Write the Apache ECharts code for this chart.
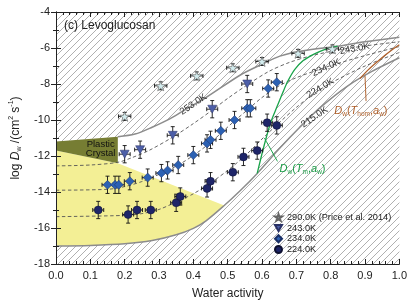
<!DOCTYPE html>
<html>
<head>
<meta charset="utf-8">
<script src="https://cdn.jsdelivr.net/npm/echarts@6/dist/echarts.min.js"></script>
<style>
  html, body { margin: 0; padding: 0; background: #fff; }
  #chart { width: 410px; height: 305px; }
</style>
</head>
<body>
<div id="chart"></div>
<script>
// measurements: [water activity, log Dw]
const price290 = [[0.20, -9.8], [0.305, -8.1], [0.41, -7.55], [0.515, -7.1], [0.60, -6.75], [0.705, -6.3], [0.805, -6.05]];
const meas243 = [[0.20, -11.9], [0.245, -11.65], [0.34, -10.85], [0.455, -9.4], [0.557, -8.0]];
const meas234 = [[0.15, -13.6], [0.172, -13.6], [0.183, -13.6], [0.215, -13.4], [0.267, -13.2], [0.307, -12.95],
  [0.325, -12.8], [0.356, -12.5], [0.40, -11.95], [0.44, -11.3], [0.45, -11.1], [0.48, -10.6], [0.52, -10.0],
  [0.557, -9.35], [0.566, -9.35], [0.618, -8.25], [0.643, -7.9]];
const meas224 = [[0.123, -15.0], [0.21, -15.25], [0.236, -15.0], [0.276, -15.0], [0.35, -14.6], [0.362, -14.25],
  [0.44, -13.8], [0.45, -13.4], [0.515, -12.9], [0.546, -12.05], [0.586, -11.7], [0.615, -10.15], [0.643, -10.3]];
const errPrice = [0.018, 0.22];
const errMeas = [0.016, 0.48];

// model isotherms
const iso253 = [[0.18, -10.93], [0.23, -10.78], [0.28, -10.4], [0.33, -9.95], [0.374, -9.45], [0.437, -8.75],
  [0.537, -7.5], [0.6, -6.9], [0.652, -6.45], [0.72, -6.15], [0.82, -5.9], [0.9, -5.65], [1.0, -5.4]];
const iso243 = [[0, -12.55], [0.1, -12.5], [0.18, -12.35], [0.22, -12.1], [0.27, -11.7], [0.34, -10.95], [0.4, -10.2],
  [0.455, -9.45], [0.5, -8.8], [0.557, -8.05], [0.62, -7.3], [0.68, -6.8], [0.75, -6.4], [0.85, -6.02], [1.0, -5.65]];
const iso234 = [[0, -13.9], [0.15, -13.85], [0.2, -13.7], [0.25, -13.42], [0.3, -13.02], [0.356, -12.5], [0.4, -11.97],
  [0.45, -11.25], [0.517, -10.1], [0.56, -9.4], [0.6, -8.75], [0.65, -8.1], [0.7, -7.65], [0.75, -7.3], [0.8, -6.98],
  [0.9, -6.42], [1.0, -5.92]];
const iso224 = [[0, -15.37], [0.2, -15.3], [0.25, -15.2], [0.3, -14.97], [0.365, -14.42], [0.4, -14.1], [0.45, -13.5],
  [0.5, -12.8], [0.55, -12.0], [0.603, -11.0], [0.65, -10.15], [0.7, -9.3], [0.75, -8.55], [0.8, -7.95], [0.9, -7.0],
  [1.0, -6.25]];
const iso215 = [[0, -17.0], [0.1, -16.97], [0.2, -16.88], [0.28, -16.7], [0.35, -16.38], [0.4, -16.02], [0.437, -15.6],
  [0.49, -14.75], [0.537, -13.92], [0.586, -12.97], [0.65, -11.6], [0.71, -10.4], [0.77, -9.3], [0.85, -8.1],
  [0.92, -7.3], [1.0, -6.54]];
const meltCurve = [[0.586, -12.97], [0.605, -11.5], [0.625, -10.15], [0.645, -9.2], [0.66, -8.5], [0.675, -7.85],
  [0.695, -7.2], [0.72, -6.7], [0.75, -6.35], [0.78, -6.1], [0.82, -5.9]];
const homCurve = [[0.885, -7.7], [0.91, -7.2], [0.935, -6.78], [0.96, -6.38], [0.98, -6.08], [1.0, -5.82]];
const meltPointer = [[0.607, -11.0], [0.645, -12.3]];
const homPointer = [[0.9, -7.55], [0.903, -8.95]];
const plasticTop = [[0, -11.2], [0.18, -10.93]];
const plasticBottom = [[0, -11.7], [0.18, -12.4]];
const glassEdge = [[0.18, -12.4], [0.49, -14.75]];

const xTicks = [0, 1, 0.1];
const yTicks = [-18, -4, 2];

const FONT = 'Liberation Sans, Arial, sans-serif';

// hatch pattern
const tile = document.createElement('canvas');
tile.width = 7; tile.height = 7;
const g = tile.getContext('2d');
g.strokeStyle = '#9c9c9c';
g.lineWidth = 0.8;
g.beginPath();
g.moveTo(0, 7); g.lineTo(7, 0);
g.moveTo(-1, 1); g.lineTo(1, -1);
g.moveTo(6, 8); g.lineTo(8, 6);
g.stroke();
const hatch = { image: tile, repeat: 'repeat' };

// regions
const fullBox = [[xTicks[0], yTicks[0]], [xTicks[1], yTicks[0]], [xTicks[1], yTicks[1]], [xTicks[0], yTicks[1]]];
const whiteRegion = [plasticTop[0]]
  .concat(iso253.filter(p => p[0] <= 0.82))
  .concat(meltCurve.slice().reverse())
  .concat(iso215.filter(p => p[0] <= 0.586).reverse());
const yellowRegion = plasticBottom.concat(glassEdge.slice(1))
  .concat(iso215.filter(p => p[0] <= 0.49).reverse());
const oliveRegion = plasticTop.concat(plasticBottom.slice().reverse());

function region(pts, fill, z) {
  return {
    type: 'custom', silent: true, z: z, data: [[0, 0]],
    renderItem: (params, api) => ({
      type: 'polygon',
      shape: { points: pts.map(p => api.coord(p)) },
      style: { fill: fill, stroke: null }
    })
  };
}

function curve(pts, color, width, dash, z) {
  return {
    type: 'line', silent: true, z: z, data: pts, showSymbol: false, smooth: 0.3,
    lineStyle: { color: color, width: width, type: dash || 'solid' }
  };
}

const errData = [].concat(
  price290.map(p => [p[0], p[1], errPrice[0], errPrice[1]]),
  meas243.map(p => [p[0], p[1], errMeas[0], errMeas[1]]),
  meas234.map(p => [p[0], p[1], errMeas[0], errMeas[1]]),
  meas224.map(p => [p[0], p[1], errMeas[0], errMeas[1]])
);

const subRich = {
  i: { fontStyle: 'italic', fontSize: 11, lineHeight: 14, fontFamily: FONT },
  n: { fontSize: 11, lineHeight: 14, fontFamily: FONT },
  s: { fontSize: 6.5, lineHeight: 7, verticalAlign: 'bottom', fontFamily: FONT }
};

const notes = [
  { text: '253.0K', at: [0.40, -9.13], rot: 34 },
  { text: '243.0K', at: [0.87, -6.04], rot: 10 },
  { text: '234.0K', at: [0.787, -7.09], rot: 24 },
  { text: '224.0K', at: [0.77, -8.24], rot: 31 },
  { text: '215.0K', at: [0.753, -9.84], rot: 34 },
  { text: 'Plastic\nCrystal', at: [0.13, -11.61], rot: 0, size: 9.5, lh: 8.5, color: '#111' },
  { text: '{i|D}{s|w}{n|(}{i|T}{s|m}{n|,}{i|a}{s|w}{n|)}', at: [0.718, -12.71], rot: 0, color: '#1a9e46', rich: true },
  { text: '{i|D}{s|w}{n|(}{i|T}{s|hom}{n|,}{i|a}{s|w}{n|)}', at: [0.888, -9.51], rot: 0, color: '#b0602a', rich: true }
];

const starPath = 'path://M50,0L61,35L98,35L68,57L79,91L50,70L21,91L32,57L2,35L39,35Z';
const downTri = 'path://M0,0L10,0L5,8.66Z';

const chart = echarts.init(document.getElementById('chart'));

const axisCommon = {
  type: 'value',
  axisLine: { show: true, lineStyle: { color: '#222', width: 1 } },
  axisTick: { show: true, inside: true, length: 5, lineStyle: { color: '#222' } },
  minorTick: { show: true, length: 3, lineStyle: { color: '#222' } },
  splitLine: { show: false },
  z: 20
};

chart.setOption({
  animation: false,
  backgroundColor: '#fff',
  textStyle: { fontFamily: FONT },
  title: {
    text: '(c) Levoglucosan', left: 64, top: 20, padding: 0,
    textStyle: { fontSize: 12, fontWeight: 'normal', color: '#222', fontFamily: FONT }
  },
  grid: { left: 53, right: 10, top: 12, bottom: 39 },
  legend: {
    data: ['290.0K (Price et al. 2014)', '243.0K', '234.0K', '224.0K'],
    orient: 'vertical', left: 274, top: 212, padding: 0,
    itemWidth: 7, itemHeight: 7, itemGap: 0,
    textStyle: { fontSize: 9.2, lineHeight: 10.7, color: '#222', fontFamily: FONT }
  },
  xAxis: [
    Object.assign({}, axisCommon, {
      min: xTicks[0], max: xTicks[1], interval: xTicks[2],
      minorTick: Object.assign({}, axisCommon.minorTick, { splitNumber: 5 }),
      name: 'Water activity', nameLocation: 'middle', nameGap: 24,
      nameTextStyle: { fontSize: 12, color: '#222', fontFamily: FONT },
      axisLabel: { fontSize: 11, color: '#222', margin: 6, formatter: v => v.toFixed(1) }
    }),
    Object.assign({}, axisCommon, {
      position: 'top', min: xTicks[0], max: xTicks[1], interval: xTicks[2],
      minorTick: Object.assign({}, axisCommon.minorTick, { splitNumber: 5 }),
      axisLabel: { show: false }
    })
  ],
  yAxis: [
    Object.assign({}, axisCommon, {
      min: yTicks[0], max: yTicks[1], interval: yTicks[2],
      minorTick: Object.assign({}, axisCommon.minorTick, { splitNumber: 2 }),
      name: '{n|log }{i|D}{s|w}{n| /(cm}{p|2}{n| s}{p|-1}{n|)}',
      nameLocation: 'middle', nameGap: 33,
      nameTextStyle: {
        color: '#222',
        rich: {
          n: { fontSize: 12, lineHeight: 15, fontFamily: FONT, color: '#222' },
          i: { fontSize: 12, lineHeight: 15, fontStyle: 'italic', fontFamily: FONT, color: '#222' },
          s: { fontSize: 7, lineHeight: 8, verticalAlign: 'bottom', fontFamily: FONT, color: '#222' },
          p: { fontSize: 7, lineHeight: 8, verticalAlign: 'top', fontFamily: FONT, color: '#222' }
        }
      },
      axisLabel: { fontSize: 11, color: '#222', margin: 6 }
    }),
    Object.assign({}, axisCommon, {
      position: 'right', min: yTicks[0], max: yTicks[1], interval: yTicks[2],
      minorTick: Object.assign({}, axisCommon.minorTick, { splitNumber: 2 }),
      axisLabel: { show: false }
    })
  ],
  series: [
    region(fullBox, hatch, 1),
    region(whiteRegion, '#ffffff', 2),
    region(yellowRegion, '#f3ef95', 3),
    region(oliveRegion, '#767d33', 4),
    curve(iso243, '#555', 0.9, [3.5, 2.5], 5),
    curve(iso234, '#555', 0.9, [3.5, 2.5], 5),
    curve(iso224, '#555', 0.9, [3.5, 2.5], 5),
    curve(iso253, '#8c8c8c', 1.5, null, 5),
    curve(iso215, '#8c8c8c', 1.5, null, 5),
    curve(meltCurve, '#1aa34a', 1.3, null, 6),
    curve(meltPointer, '#1aa34a', 1, null, 6),
    curve(homCurve, '#b0602a', 1.3, null, 6),
    curve(homPointer, '#b0602a', 1, null, 6),
    {
      type: 'custom', silent: true, z: 7, data: errData, encode: { x: 0, y: 1 },
      renderItem: (params, api) => {
        const x = api.value(0), y = api.value(1), ex = api.value(2), ey = api.value(3);
        const c = api.coord([x, y]);
        const l = api.coord([x - ex, y])[0], r = api.coord([x + ex, y])[0];
        const t = api.coord([x, y + ey])[1], b = api.coord([x, y - ey])[1];
        const st = { stroke: '#111', lineWidth: 0.9 };
        const cap = 2;
        return {
          type: 'group', children: [
            { type: 'line', shape: { x1: l, y1: c[1], x2: r, y2: c[1] }, style: st },
            { type: 'line', shape: { x1: c[0], y1: t, x2: c[0], y2: b }, style: st },
            { type: 'line', shape: { x1: l, y1: c[1] - cap, x2: l, y2: c[1] + cap }, style: st },
            { type: 'line', shape: { x1: r, y1: c[1] - cap, x2: r, y2: c[1] + cap }, style: st },
            { type: 'line', shape: { x1: c[0] - cap, y1: t, x2: c[0] + cap, y2: t }, style: st },
            { type: 'line', shape: { x1: c[0] - cap, y1: b, x2: c[0] + cap, y2: b }, style: st }
          ]
        };
      }
    },
    {
      name: '290.0K (Price et al. 2014)', type: 'scatter', z: 8, data: price290,
      symbol: starPath, symbolSize: 10,
      itemStyle: { color: '#d3ecee', borderColor: '#666', borderWidth: 0.7, opacity: 1 }
    },
    {
      name: '243.0K', type: 'scatter', z: 8, data: meas243,
      symbol: downTri, symbolSize: [9, 8],
      itemStyle: { color: '#4d5fa8', borderColor: '#2a3266', borderWidth: 0.5, opacity: 1 }
    },
    {
      name: '234.0K', type: 'scatter', z: 8, data: meas234,
      symbol: 'diamond', symbolSize: 9,
      itemStyle: { color: '#2c61b3', borderColor: '#1a2f66', borderWidth: 0.5, opacity: 1 }
    },
    {
      name: '224.0K', type: 'scatter', z: 8, data: meas224,
      symbol: 'circle', symbolSize: 8,
      itemStyle: { color: '#1e2568', borderColor: '#0d1030', borderWidth: 0.5, opacity: 1 }
    },
    {
      type: 'custom', silent: true, z: 9, data: notes.map((n, i) => [n.at[0], n.at[1], i]),
      encode: { x: 0, y: 1 },
      renderItem: (params, api) => {
        const n = notes[api.value(2)];
        const p = api.coord(n.at);
        const style = {
          text: n.text, fill: n.color || '#333', align: 'center', verticalAlign: 'middle',
          fontSize: n.size || 9.5, fontFamily: FONT
        };
        if (n.lh) style.lineHeight = n.lh;
        if (n.rich) style.rich = subRich;
        return { type: 'text', x: p[0], y: p[1], rotation: n.rot * Math.PI / 180, style: style };
      }
    }
  ]
});
</script>
</body>
</html>
